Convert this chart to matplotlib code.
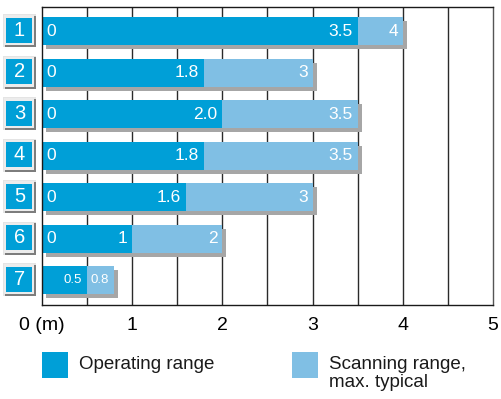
import matplotlib.pyplot as plt
from matplotlib.patches import Rectangle
from matplotlib.transforms import blended_transform_factory, offset_copy
import numpy as np

# Sensing ranges per device (metres)
rows = ["1", "2", "3", "4", "5", "6", "7"]
operating_labels = ["3.5", "1.8", "2.0", "1.8", "1.6", "1", "0.5"]
scanning_labels = ["4", "3", "3.5", "3.5", "3", "2", "0.8"]
tick_values = [0, 1, 2, 3, 4, 5]
tick_labels = ["0 (m)", "1", "2", "3", "4", "5"]

operating = [float(s) for s in operating_labels]
scanning = [float(s) for s in scanning_labels]

DARK = "#009fd7"
LIGHT = "#80bfe4"
SHADOW = "#a6a6a6"

plt.rcParams["font.family"] = "Liberation Sans"

fig = plt.figure(figsize=(5.02, 3.99), dpi=100)
ax = fig.add_axes([42 / 502, 1 - 305 / 399, 451 / 502, 298 / 399])

ypos = np.arange(1, len(rows) + 1)
ax.set_xlim(0, 5)
ax.set_ylim(7.6, 0.42)

# vertical grid lines, hidden behind the bars
for gx in np.arange(0.5, 5, 0.5):
    ax.axvline(gx, color="#2a2a2a", lw=1.0, zorder=0)

h = 0.675
shadow_tr = offset_copy(ax.transData, fig=fig, x=4, y=-4, units="dots")
ax.barh(ypos, scanning, height=h, color=SHADOW, transform=shadow_tr, zorder=1)
ax.barh(ypos, operating, height=h, color=DARK, zorder=2)
ax.barh(ypos, np.array(scanning) - np.array(operating), left=operating,
        height=h, color=LIGHT, zorder=2)

for y, op, sc, ol, sl in zip(ypos, operating, scanning,
                             operating_labels, scanning_labels):
    fs = 9.5 if sc < 1 else 12.5
    if sc >= 1:
        ax.annotate("0", (0, y), xytext=(4, 0), textcoords="offset pixels",
                    ha="left", va="center", color="white", fontsize=fs, zorder=3)
    ax.annotate(ol, (op, y), xytext=(-5, 0), textcoords="offset pixels",
                ha="right", va="center", color="white", fontsize=fs, zorder=3)
    ax.annotate(sl, (sc, y), xytext=(-5, 0), textcoords="offset pixels",
                ha="right", va="center", color="white", fontsize=fs, zorder=3)

# numbered row badges on the left: light frame, dark lower-right edge, blue face
badge_tr = blended_transform_factory(ax.transAxes, ax.transData)
px = 1 / 451   # one pixel in axes fraction
py = 1 / 41.5  # one pixel in data units along y


def badge_rect(y, x0, x1, top, bottom, color, z):
    return Rectangle((x0 * px, y + top * py), (x1 - x0) * px,
                     (bottom - top) * py, transform=badge_tr, facecolor=color,
                     edgecolor="none", clip_on=False, zorder=z)


for y, r in zip(ypos, rows):
    ax.add_patch(badge_rect(y, -39, -6, -17, 16, "#e4e4e4", 5))
    ax.add_patch(badge_rect(y, -37.5, -6, -15.5, 16, "#7d7d7d", 5))
    ax.add_patch(badge_rect(y, -38, -8, -16, 14, "#ececec", 5))
    ax.add_patch(badge_rect(y, -35.5, -9.5, -13.5, 11.5, DARK, 6))
    ax.text(-22.5 * px, y - 1 * py, r, transform=badge_tr, ha="center",
            va="center", color="white", fontsize=14.5, zorder=7)

ax.set_yticks([])
ax.set_xticks(tick_values, labels=tick_labels)
ax.tick_params(axis="x", length=0, pad=9, labelsize=14)
for side in ["top", "bottom", "left"]:
    ax.spines[side].set_color("#1a1a1a")
    ax.spines[side].set_linewidth(1.0)
ax.spines["right"].set_color("#555555")
ax.spines["right"].set_linewidth(1.0)

# legend
legend_items = [("Operating range", DARK, 42),
                ("Scanning range,\nmax. typical", LIGHT, 292)]
for text, color, lx in legend_items:
    fig.patches.append(Rectangle((lx / 502, 1 - 378 / 399), 26 / 502, 26 / 399,
                                 transform=fig.transFigure, facecolor=color,
                                 edgecolor="none"))
    fig.text((lx + 37) / 502, 1 - 356 / 399, text, ha="left", va="top",
             fontsize=13.5, linespacing=1.1, color="#1a1a1a")

fig.savefig("out.png", dpi=100)
